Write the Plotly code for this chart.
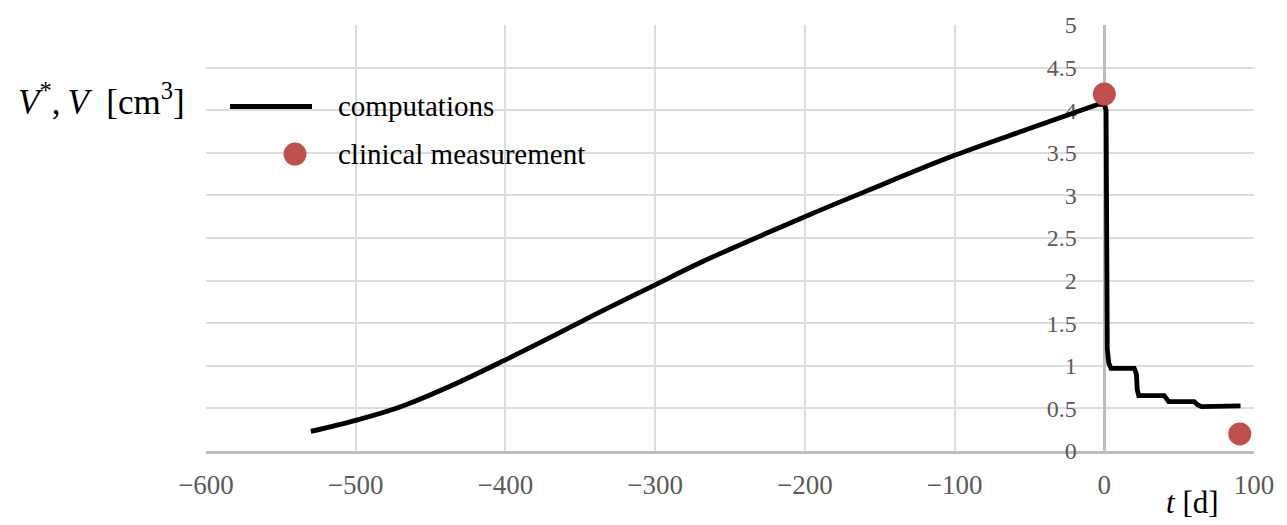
import plotly.graph_objects as go

# ---- data ----
t_pre = [-530, -500, -470, -437, -400, -368, -337, -300, -270, -200, -159, -100, -49, -4]
v_pre = [0.23, 0.36, 0.52, 0.76, 1.07, 1.35, 1.63, 1.95, 2.21, 2.75, 3.05, 3.47, 3.79, 4.07]

t_post = [0, 1.2, 1.5, 2.0, 3.0, 4.5, 20, 21.5, 22, 23, 40, 41.5, 43, 60, 62.5, 65, 75, 91]
v_post = [4.07, 4.0, 2.0, 1.2, 1.03, 0.97, 0.97, 0.9, 0.72, 0.65, 0.65, 0.61, 0.58, 0.58, 0.54, 0.52, 0.52, 0.53]

t_meas = [0, 90.5]
v_meas = [4.19, 0.2]

x_ticks = [-600, -500, -400, -300, -200, -100, 0, 100]
x_tick_text = ["\u2212600", "\u2212500", "\u2212400", "\u2212300", "\u2212200", "\u2212100", "0", "100"]
y_ticks = [0, 0.5, 1, 1.5, 2, 2.5, 3, 3.5, 4, 4.5, 5]
y_tick_text = ["0", "0.5", "1", "1.5", "2", "2.5", "3", "3.5", "4", "4.5", "5"]

legend_names = ["computations", "clinical measurement"]

# ---- styling ----
W, H = 1287, 525
ML, MR, MT, MB = 206, 33, 22, 74
PW, PH = W - ML - MR, H - MT - MB
SERIF = "Liberation Serif"
RED = "rgb(192,80,77)"
GRID = "#dcdcdc"
AXIS = "#bdbdbd"
TICKC = "#5a5a5a"

X_RANGE = [-600, 100]


def px_x(px):
    return (px - ML) / PW


def px_y(py):
    return (H - MB - py) / PH


fig = go.Figure()
fig.add_trace(go.Scatter(
    x=t_pre, y=v_pre, mode="lines",
    line=dict(color="black", width=4.8, shape="spline", smoothing=1.0),
    name=legend_names[0], showlegend=False,
))
fig.add_trace(go.Scatter(
    x=[t_pre[-1]] + t_post, y=[v_pre[-1]] + v_post, mode="lines",
    line=dict(color="black", width=4.8), name=legend_names[0], showlegend=False,
))
fig.add_trace(go.Scatter(
    x=t_meas, y=v_meas, mode="markers",
    marker=dict(color=RED, size=23), name=legend_names[1], showlegend=False,
))

# manual legend
leg_y1 = px_y(104)
leg_y2 = px_y(152)
fig.add_shape(type="line", xref="paper", yref="paper",
              x0=px_x(230), x1=px_x(312), y0=leg_y1, y1=leg_y1,
              line=dict(color="black", width=5))
fig.add_shape(type="circle", xref="paper", yref="paper",
              xsizemode="pixel", ysizemode="pixel",
              xanchor=px_x(295), yanchor=leg_y2,
              x0=-11.5, x1=11.5, y0=-11.5, y1=11.5,
              fillcolor=RED, line=dict(width=0))
for name, yy in zip(legend_names, [leg_y1, leg_y2]):
    fig.add_annotation(xref="paper", yref="paper", x=px_x(336), y=yy,
                       text=name, showarrow=False, xanchor="left", yanchor="middle",
                       font=dict(family=SERIF, size=29, color="black"))

# axis titles
fig.add_annotation(xref="paper", yref="paper", x=px_x(187), y=px_y(97),
                   text="<i>V</i><sup>*</sup>,\u2009<i>V</i>\u2002[cm<sup>3</sup>]",
                   showarrow=False, xanchor="right", yanchor="middle",
                   font=dict(family=SERIF, size=35, color="black"))
fig.add_annotation(xref="paper", yref="paper", x=px_x(1192), y=px_y(503),
                   text="<i>t</i> [d]", showarrow=False, xanchor="center", yanchor="middle",
                   font=dict(family=SERIF, size=31, color="black"))

fig.update_layout(
    width=W, height=H,
    margin=dict(l=ML, r=MR, t=MT, b=MB, pad=0),
    paper_bgcolor="white", plot_bgcolor="white",
    showlegend=False,
    font=dict(family=SERIF, size=26, color=TICKC),
    xaxis=dict(
        range=X_RANGE, tickmode="array", tickvals=x_ticks, ticktext=x_tick_text,
        showgrid=True, gridcolor=GRID, gridwidth=1.5,
        zeroline=False, showline=True, linecolor=AXIS, linewidth=2.5,
        ticks="", ticklabelstandoff=8, layer="below traces",
        tickfont=dict(family=SERIF, size=27, color=TICKC),
    ),
    yaxis=dict(
        range=[0, 5], tickmode="array", tickvals=y_ticks, ticktext=y_tick_text,
        anchor="free", position=(0 - X_RANGE[0]) / (X_RANGE[1] - X_RANGE[0]), side="left",
        showgrid=True, gridcolor=GRID, gridwidth=1.5,
        zeroline=False, showline=True, linecolor=AXIS, linewidth=2.5,
        ticks="", ticklabelstandoff=22, layer="below traces",
        tickfont=dict(family=SERIF, size=24, color=TICKC),
    ),
)

fig.write_html("out.html")
